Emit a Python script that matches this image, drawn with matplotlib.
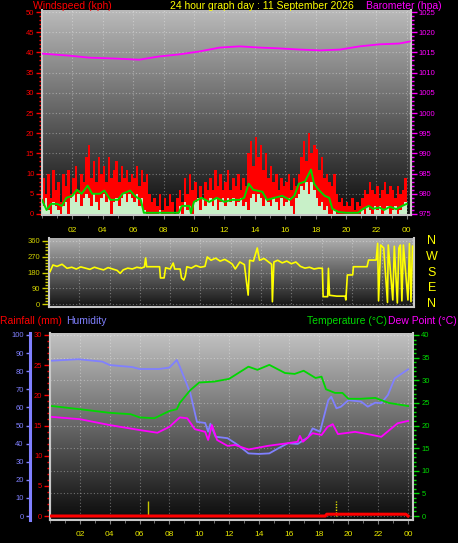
import numpy as np
import matplotlib
matplotlib.use('Agg')
import matplotlib.pyplot as plt
from matplotlib.colors import LinearSegmentedColormap
from matplotlib.ticker import MultipleLocator, FixedLocator

plt.rcParams['font.family'] = ['Liberation Sans', 'DejaVu Sans']

# ---------------- DATA ----------------
title = "24 hour graph day : 11 September 2026"
hour_ticks = [2, 4, 6, 8, 10, 12, 14, 16, 18, 20, 22, 24]
hour_labels = ["02", "04", "06", "08", "10", "12", "14", "16", "18", "20", "22", "00"]

# wind gusts (kph), 10-minute samples
wind_gust = [
    9, 5, 10, 4, 11, 6,
    8, 3, 10, 7, 11, 5,
    9, 12, 6, 10, 8, 14,
    17, 9, 13, 8, 14, 10,
    12, 8, 14, 9, 11, 13,
    8, 12, 9, 11, 8, 10,
    9, 12, 7, 11, 8, 10,
    5, 3, 4, 2, 5, 1,
    4, 2, 5, 3, 0, 4,
    6, 3, 9, 5, 10, 6,
    8, 4, 7, 0, 8, 6,
    9, 6, 11, 7, 10, 6,
    8, 11, 6, 9, 7, 10,
    6, 9, 7, 15, 18, 12,
    19, 14, 17, 11, 15, 9,
    12, 8, 10, 6, 9, 7,
    8, 10, 6, 9, 7, 10,
    14, 18, 13, 20, 15, 17,
    16, 11, 14, 9, 10, 8,
    7, 10, 5, 3, 4, 2,
    3, 2, 4, 1, 3, 2,
    4, 6, 5, 8, 6, 5,
    7, 4, 6, 8, 5, 7,
    6, 4, 7, 5, 6, 9,
]
# wind speed (kph), 10-minute samples
wind_speed = [
    2, 4, 1, 0, 3, 2,
    1, 0, 2, 3, 0, 4,
    5, 3, 5, 2, 4, 5,
    4, 2, 5, 3, 1, 4,
    5, 3, 4, 0, 3, 4,
    2, 4, 5, 3, 5, 4,
    3, 5, 2, 4, 1, 0,
    0, 0, 0, 0, 1, 0,
    0, 0, 0, 0, 0, 0,
    2, 0, 3, 1, 2, 0,
    3, 4, 1, 4, 2, 3,
    4, 2, 4, 1, 3, 4,
    2, 4, 3, 4, 2, 3,
    4, 2, 3, 1, 4, 5,
    3, 5, 4, 2, 4, 3,
    2, 4, 3, 1, 4, 2,
    3, 4, 2, 0, 4, 5,
    7, 6, 8, 5, 8, 6,
    4, 2, 3, 1, 2, 0,
    0, 1, 0, 0, 0, 0,
    0, 0, 0, 0, 0, 0,
    1, 0, 2, 1, 0, 2,
    1, 2, 0, 1, 2, 0,
    1, 2, 0, 1, 2, 3,
]
# average wind speed (kph)
avg_hours = [0, 0.3, 0.6, 1, 1.3, 1.6, 2, 2.3, 2.6, 3, 3.3, 3.8, 4.1, 4.5, 5, 5.3, 5.8, 6.1, 6.5, 6.7,
             9, 9.2, 9.7, 9.8, 10, 10.5, 11, 11.5, 12, 12.5, 13, 13.3, 13.6, 13.9, 14.5, 14.8, 15.3,
             15.8, 16.3, 16.6, 16.9, 17.3, 17.7, 17.9, 18.2, 18.6, 18.9, 19.1, 19.5, 20, 20.8, 21.1,
             21.5, 21.8, 22.2, 22.5, 22.9, 23.3, 23.7, 24]
avg_wind = [3.5, 1, 2.5, 2.5, 2, 4, 4.5, 6, 5, 7, 5, 5, 5.8, 3.5, 3.5, 5, 5.8, 4.5, 3.5, 0.3,
            0.3, 2, 2, 0.2, 3, 4, 3, 4, 3, 3.5, 3.5, 4, 7.5, 6, 5.5, 3.5, 4,
            4.5, 3.5, 4.5, 7.5, 8, 11, 7.5, 6, 4.5, 4, 1.3, 0.5, 0.3, 0.3, 1.2,
            2, 1.3, 1.6, 1, 1.8, 1.2, 2, 2.5]
# barometer (hPa)
baro_hours = [0, 1.8, 3.1, 4.7, 6.4, 7.7, 9.0, 10.3, 11.7, 13.0, 14.3, 15.6, 17.0, 18.3, 19.6, 20.9, 22.2, 23.5, 24.2]
baro = [1014.7, 1014.2, 1013.7, 1013.5, 1013.2, 1014.0, 1014.5, 1015.2, 1016.2, 1016.5, 1016.2,
        1016.0, 1015.7, 1015.5, 1015.7, 1016.5, 1017.0, 1017.2, 1017.7]

# wind direction (degrees)
dir_hours = [0.07, 0.26, 0.53, 0.86, 1.19, 1.5, 1.8, 2.1, 2.4, 2.7, 3.0, 3.3, 3.6, 3.9, 4.2, 4.5, 4.7,
             4.9, 5.2, 5.5, 5.8, 6.1, 6.3, 6.38, 6.45, 7.3, 7.36, 7.6, 7.7, 8.0, 8.2, 8.3, 8.66, 8.75,
             8.9, 9.0, 9.1, 9.4, 9.7, 10.0, 10.3, 10.45, 10.7, 11.0, 11.3, 11.6, 11.9, 12.1, 12.3, 12.6,
             12.9, 13.05, 13.15, 13.25, 13.5, 13.75, 13.9, 14.2, 14.5, 14.7, 14.75, 14.85, 15.1, 15.4,
             15.7, 16.0, 16.3, 16.6, 16.9, 17.2, 17.5, 17.8, 18.05, 18.1, 18.4, 18.45, 18.52, 19.0,
             19.55, 19.6, 19.7, 20.05, 20.1, 21.0, 21.1, 21.6, 21.7, 21.76, 21.9, 22.1, 22.35, 22.4,
             22.7, 22.8, 23.0, 23.1, 23.2, 23.3, 23.4, 23.7, 23.8, 23.9, 24.0]
dir_values = [185, 223, 215, 227, 204, 210, 200, 212, 205, 198, 210, 202, 195, 208, 200, 192, 175,
              195, 205, 200, 210, 205, 212, 263, 213, 213, 149, 149, 207, 200, 234, 200, 200, 149,
              137, 160, 213, 205, 220, 210, 215, 269, 250, 262, 245, 255, 240, 228, 200, 240,
              225, 120, 51, 250, 245, 320, 250, 260, 240, 227, 13, 240, 250, 235,
              245, 230, 240, 215, 205, 210, 200, 205, 204, 42, 42, 204, 50, 45,
              45, 23, 166, 166, 213, 213, 251, 251, 347, 18, 337, 320, 9, 337,
              23, 330, 6, 320, 337, 18, 337, 23, 345, 14, 330]

# temperature / dew point (°C)
temp_hours = [0.13, 2, 4, 5.4, 6, 7, 8, 8.5, 8.7, 9.4, 10, 11, 12, 13.3, 13.9, 14.7, 15.75, 16.4,
              17, 17.8, 18.2, 18.5, 19.1, 19.6, 20, 20.8, 21.8, 22.7, 24]
temperature = [24.3, 23.6, 22.8, 22.5, 21.8, 21.6, 23.2, 23.6, 25.0, 27.8, 29.5, 29.7, 30.3, 33.0,
               32.3, 33.4, 31.6, 31.4, 32.1, 30.5, 30.8, 28.0, 27.2, 27.2, 25.9, 25.9, 26.1, 25.0, 24.3]
dew_hours = [0.13, 2, 4, 6, 7.2, 8, 8.7, 9.2, 9.7, 10.4, 10.6, 10.85, 11.2, 11.9, 12.4, 13.3, 14.6,
             15.95, 16.6, 16.75, 16.95, 17.6, 18.2, 18.6, 18.95, 19.3, 20.45, 21.3, 22.2, 22.9, 23.3, 24]
dew_point = [21.9, 21.4, 20.1, 19.0, 18.4, 19.7, 21.8, 21.6, 19.2, 18.6, 16.8, 20.1, 16.8, 15.5,
             15.7, 14.7, 15.5, 16.1, 16.4, 17.7, 16.4, 18.3, 17.9, 19.7, 20.3, 18.1, 18.6, 18.1, 17.5,
             19.4, 20.5, 21.0]
# humidity (%)
hum_hours = [0.13, 1.9, 3.5, 4.0, 5.5, 6.0, 7.3, 8.0, 8.5, 8.7, 9.4, 9.85, 10.4, 10.6, 10.75, 11.1,
             11.9, 12.6, 13.3, 14.0, 14.7, 15.3, 15.95, 16.6, 17.3, 17.6, 18.1, 18.3, 18.65, 18.85,
             19.2, 19.5, 20.0, 20.85, 21.3, 21.8, 22.2, 22.65, 23.1, 24.0]
humidity = [85.8, 86.6, 85.3, 83.4, 82.3, 81.2, 81.2, 82.0, 86.2, 82.5, 68, 52, 51.4, 46.6, 51,
            43.8, 43, 39.2, 34.6, 34.3, 34.6, 37.4, 40.2, 39.8, 43.5, 48.4, 46.6, 53, 64, 65.9,
            59.5, 60.4, 64, 63.2, 60.4, 62.6, 62.3, 66.9, 76, 81]
# rainfall (mm)
rain_hours = [0, 18.45, 18.55, 23.85, 24.0]
rainfall = [0, 0, 0.3, 0.3, 0]
rate_hours = [6.55, 19.15]
rain_rate = [2.5, 2.5]

# ---------------- COLOURS ----------------
RED = '#ff0000'
GREEN = '#00d800'
LIGHTGREEN = '#c8f0c8'
MAGENTA = '#ff00ff'
YELLOW = '#ffff00'
HUMBLUE = '#8080ff'
TICKYEL = '#e8e800'
SPINE = '#c8c8c8'
FS = 7.5

W, H = 458, 543
fig = plt.figure(figsize=(W / 100, H / 100), dpi=100, facecolor='black')


def px_axes(l, t, r, b):
    return fig.add_axes([l / W, 1 - b / H, (r - l) / W, (b - t) / H])


def gradient(ax, top, bottom):
    cmap = LinearSegmentedColormap.from_list('g', [bottom, top])
    grad = np.linspace(0, 1, 256).reshape(-1, 1)
    ax.imshow(grad, extent=[0, 1, 0, 1], transform=ax.transAxes, origin='lower',
              aspect='auto', cmap=cmap, zorder=0, interpolation='bilinear')


def style_common(ax):
    ax.set_facecolor('black')
    ax.spines['top'].set_visible(False)
    for s in ['left', 'bottom', 'right']:
        ax.spines[s].set_color(SPINE)
        ax.spines[s].set_linewidth(1.5)
    ax.grid(True, which='major', color='white', alpha=0.35, linestyle=(0, (1, 2)), linewidth=0.8)


# ================= TOP PANEL: wind + barometer =================
ax1 = px_axes(42, 10, 411, 215)
gradient(ax1, '#bababa', '#0c0c0c')
style_common(ax1)
step = 1 / 6
gh = np.arange(len(wind_gust)) * step
ax1.bar(gh, wind_gust, width=step, align='edge', color=RED, linewidth=0, zorder=2)
ax1.bar(gh, wind_speed, width=step, align='edge', color=LIGHTGREEN, linewidth=0, zorder=3)
ax1.plot(avg_hours, avg_wind, color=GREEN, lw=1.4, zorder=4)
ax1.set_xlim(0, 24.28)
ax1.set_ylim(-0.25, 50.5)

ax1b = ax1.twinx()
ax1b.plot(baro_hours, baro, color=MAGENTA, lw=1.3, zorder=5)
ax1b.set_ylim(974.75, 1025.5)
ax1b.set_xlim(0, 24.28)
ax1b.yaxis.set_major_locator(MultipleLocator(5))
ax1b.yaxis.set_minor_locator(MultipleLocator(1))
ax1b.tick_params(axis='y', which='both', colors=MAGENTA, labelsize=5.5, pad=1.5)
ax1b.tick_params(axis='y', which='major', length=4, width=1)
ax1b.tick_params(axis='y', which='minor', length=2.5, width=1)
for s in ['left', 'top', 'bottom']:
    ax1b.spines[s].set_visible(False)
ax1b.spines['right'].set_color(SPINE)
ax1b.spines['right'].set_linewidth(1.5)

ax1.yaxis.tick_left()
ax1.yaxis.set_major_locator(MultipleLocator(5))
ax1.yaxis.set_minor_locator(MultipleLocator(1))
ax1.xaxis.set_major_locator(FixedLocator(hour_ticks))
ax1.xaxis.set_minor_locator(MultipleLocator(1))
ax1.set_xticklabels(hour_labels)
ax1.tick_params(axis='y', which='both', colors=RED, labelsize=5.5, pad=1.5)
ax1.tick_params(axis='y', which='major', length=4, width=1)
ax1.tick_params(axis='y', which='minor', length=2.5, width=1)
ax1.tick_params(axis='x', which='both', color='#808080', labelcolor=TICKYEL, labelsize=6, length=3, pad=6)
ax1.tick_params(axis='x', which='minor', length=2)

# ================= MIDDLE PANEL: wind direction =================
ax2 = px_axes(49, 238, 414, 307)
gradient(ax2, '#b0b0b0', '#141414')
style_common(ax2)
ax2.plot(dir_hours, dir_values, color=YELLOW, lw=1.2, zorder=3)
ax2.set_xlim(0, 24.1)
ax2.set_ylim(-17, 377)
ax2.yaxis.set_major_locator(FixedLocator([0, 90, 180, 270, 360]))
ax2.yaxis.set_minor_locator(MultipleLocator(18))
ax2.xaxis.set_major_locator(FixedLocator(hour_ticks))
ax2.tick_params(axis='y', which='both', colors='#d0d000', labelsize=5.5, pad=1.5)
ax2.tick_params(axis='y', which='major', length=5, width=1)
ax2.tick_params(axis='y', which='minor', length=3, width=1)
ax2.tick_params(axis='x', which='both', length=0, labelbottom=False)
for lab, v in zip(['N', 'W', 'S', 'E', 'N'], [360, 270, 180, 90, 0]):
    y = 304 - v * 63 / 360
    fig.text(432 / W, 1 - y / H, lab, color=YELLOW, fontsize=9, ha='center', va='center')

# ================= BOTTOM PANEL: temp / dew / humidity / rain =================
ax3 = px_axes(50, 333, 413, 520)
gradient(ax3, '#c2c2c2', '#0a0a0a')
style_common(ax3)
ax3.set_xlim(0, 24.33)
ax3.set_ylim(-0.88, 40.44)

# rain axis (left, red)
ax3r = ax3.twinx()
ax3r.set_xlim(0, 24.33)
ax3r.set_ylim(-0.66, 30.33)
for s in ['right', 'top', 'bottom']:
    ax3r.spines[s].set_visible(False)
ax3r.spines['left'].set_color(SPINE)
ax3r.spines['left'].set_linewidth(1.5)
ax3r.vlines(rate_hours[:1], 0, rain_rate[:1], color='#c8c800', lw=1, zorder=3)
ax3r.vlines(rate_hours[1:], 0, rain_rate[1:], color='#e8e800', lw=1, linestyles=(0, (1, 1)), zorder=3)

# humidity axis (outer left, blue)
ax3h = ax3.twinx()
ax3h.spines['left'].set_position(('outward', 14.4))
ax3h.spines['left'].set_visible(True)
ax3h.spines['left'].set_color(HUMBLUE)
ax3h.spines['left'].set_linewidth(2.2)
for s in ['right', 'top', 'bottom']:
    ax3h.spines[s].set_visible(False)
ax3h.set_xlim(0, 24.33)
ax3h.set_ylim(-2.2, 101.1)
ax3h.plot(hum_hours, humidity, color=HUMBLUE, lw=1.3, zorder=3)

# temperature & dew point drawn on top
ax3t = ax3.twinx()
ax3t.set_ylim(-0.88, 40.44)
ax3t.set_xlim(0, 24.33)
ax3t.axis('off')
ax3t.plot(temp_hours, temperature, color=GREEN, lw=1.3, zorder=4)
ax3t.plot(dew_hours, dew_point, color=MAGENTA, lw=1.3, zorder=4)

ax3rr = ax3.twinx()
ax3rr.set_ylim(-0.66, 30.33)
ax3rr.set_xlim(0, 24.33)
ax3rr.axis('off')
ax3rr.plot(rain_hours, rainfall, color=RED, lw=2.2, zorder=5)

# tick configuration after all twins (twinx resets tick sides)
ax3.yaxis.tick_right()
ax3.yaxis.set_major_locator(MultipleLocator(5))
ax3.yaxis.set_minor_locator(MultipleLocator(1))
ax3.xaxis.set_major_locator(FixedLocator(hour_ticks))
ax3.xaxis.set_minor_locator(MultipleLocator(1))
ax3.set_xticklabels(hour_labels)
ax3.tick_params(axis='y', which='both', colors=GREEN, labelsize=5.5, pad=2)
ax3.tick_params(axis='y', which='major', length=4, width=1)
ax3.tick_params(axis='y', which='minor', length=2.5, width=1)
ax3.tick_params(axis='x', which='both', color='#808080', labelcolor=TICKYEL, labelsize=6, length=3, pad=5)
ax3.tick_params(axis='x', which='minor', length=2)

ax3r.yaxis.tick_left()
ax3r.yaxis.set_major_locator(MultipleLocator(5))
ax3r.yaxis.set_minor_locator(MultipleLocator(1))
ax3r.tick_params(axis='y', which='both', colors=RED, labelsize=5.5, pad=1.5)
ax3r.tick_params(axis='y', which='major', length=4, width=1)
ax3r.tick_params(axis='y', which='minor', length=2.5, width=1)

ax3h.yaxis.tick_left()
ax3h.yaxis.set_major_locator(MultipleLocator(10))
ax3h.tick_params(axis='y', which='both', colors=HUMBLUE, labelsize=5.5, pad=1.5, length=3, width=1)

# ================= TEXTS =================
fig.text(33 / W, 1 - 6 / H, "Windspeed (kph)", color=RED, fontsize=FS, ha='left', va='center')
fig.text(170 / W, 1 - 6 / H, title, color=YELLOW, fontsize=FS, ha='left', va='center')
fig.text(366 / W, 1 - 6 / H, "Barometer (hpa)", color=MAGENTA, fontsize=FS, ha='left', va='center')
fig.text(0 / W, 1 - 321 / H, "Rainfall (mm)", color=RED, fontsize=FS, ha='left', va='center')
fig.text(66 / W, 1 - 321 / H, "Humidity", color=HUMBLUE, fontsize=FS, ha='left', va='center')
fig.text(387 / W, 1 - 321 / H, "Temperature (°C)", color=GREEN, fontsize=FS, ha='right', va='center')
fig.text(457 / W, 1 - 321 / H, "Dew Point (°C)", color=MAGENTA, fontsize=FS, ha='right', va='center')

fig.savefig('out.png', dpi=100, facecolor='black')
